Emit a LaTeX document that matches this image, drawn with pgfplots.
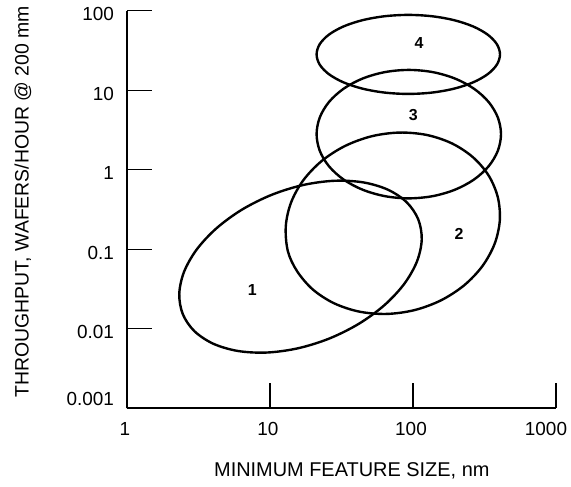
\documentclass[border=0pt]{standalone}
\usepackage{fontspec}
\setmainfont{Liberation Sans}
\usepackage{pgfplots}
\pgfplotsset{compat=1.18}
\begin{document}
\begin{tikzpicture}
\begin{axis}[
  scale only axis,
  width=429bp, height=397.6bp,
  xmode=log, ymode=log,
  xmin=1, xmax=1000, ymin=0.001, ymax=100,
  axis x line=bottom, axis y line=left,
  axis line style={-, line width=2.4pt, black},
  xminorticks=false, yminorticks=false,
  tick align=inside,
  major tick length=25bp,
  tick style={line width=1.2pt, black},
  /pgf/number format/assume math mode=true,
  xtick={1,10,100}, xticklabels={1,10,100},
  extra x ticks={1000}, extra x tick labels={1000},
  extra x tick style={xticklabel style={xshift=-8bp}},
  ytick={0.01,0.1,1,10,100}, yticklabels={0.01,0.1,1,10,100},
  extra y ticks={0.001}, extra y tick labels={0.001},
  extra y tick style={yticklabel style={yshift=12.5bp}},
  xticklabel style={font=\fontsize{19}{19}\selectfont, yshift=-10.5bp, xshift=-2bp},
  yticklabel style={font=\fontsize{19}{19}\selectfont, xshift=-9.5bp, yshift=-3.5bp},
  xlabel={MINIMUM FEATURE SIZE, nm},
  ylabel={THROUGHPUT, WAFERS/HOUR @ 200 mm},
  every axis x label/.style={at={(axis description cs:0.524,0)}, yshift=-62.2bp, anchor=center, font=\fontsize{20}{20}\selectfont},
  every axis y label/.style={at={(axis description cs:0,0.52)}, xshift=-104bp, rotate=90, anchor=center, font=\fontsize{19.5}{19.5}\selectfont},
  clip=false,
]
% ellipse 1
\addplot[black, line width=2.4pt, smooth cycle, tension=0.55] coordinates {
(108.8,0.2379) (90.45,0.3891) (66.89,0.5603) (44.95,0.6931) (28.19,0.7265) (17.03,0.6422)
(10.27,0.4836) (6.385,0.3159) (4.234,0.1843) (3.078,0.09974) (2.507,0.05215) (2.321,0.02753)
(2.454,0.01534) (2.953,0.009380) (3.993,0.006514) (5.941,0.005266) (9.471,0.005025) (15.68,0.005683)
(26.02,0.007549) (41.82,0.01156) (63.07,0.01980) (86.75,0.03659) (106.5,0.07000) (115.1,0.1326)
};
% ellipse 2
\addplot[black, line width=2.4pt, smooth cycle, tension=0.55] coordinates {
(391.6,0.4531) (337.9,0.8469) (262.3,1.439) (186.6,2.149) (124.4,2.740) (79.89,2.933)
(50.96,2.627) (33.31,1.981) (22.94,1.284) (17.08,0.7356) (14.04,0.3875) (12.90,0.1957)
(13.32,0.09528) (15.44,0.05325) (19.89,0.03131) (27.97,0.02098) (41.95,0.01646) (65.31,0.01537)
(102.4,0.01717) (156.7,0.02276) (227.5,0.03513) (305.5,0.06129) (371.8,0.1164) (404.6,0.2303)
};
% ellipse 3
\addplot[black, line width=2.4pt, smooth cycle, tension=0.55] coordinates {
(412.5,2.804) (392.1,4.538) (338.1,7.106) (267.0,10.44) (196.3,14.04) (137.2,16.90)
(93.46,18.00) (63.65,16.90) (44.50,14.04) (32.71,10.44) (25.84,7.106) (22.28,4.538)
(21.18,2.804) (22.28,1.733) (25.84,1.107) (32.71,0.7528) (44.50,0.5603) (63.65,0.4654)
(93.46,0.4368) (137.2,0.4654) (196.3,0.5603) (267.0,0.7528) (338.1,1.107) (392.1,1.733)
};
% ellipse 4
\addplot[black, line width=2.4pt, smooth cycle, tension=0.55] coordinates {
(405.9,28.20) (386.0,37.92) (333.0,49.96) (263.4,63.34) (194.0,75.97) (135.9,85.15)
(92.71,88.56) (63.27,85.15) (44.31,75.97) (32.64,63.34) (25.81,49.96) (22.27,37.92)
(21.18,28.20) (22.27,20.98) (25.81,15.92) (32.64,12.56) (44.31,10.47) (63.27,9.342)
(92.71,8.985) (135.9,9.342) (194.0,10.47) (263.4,12.56) (333.0,15.92) (386.0,20.98)
};
\node[font=\fontsize{16}{16}\bfseries\selectfont] at (axis cs:110.2,39.0) {4};
\node[font=\fontsize{16}{16}\bfseries\selectfont] at (axis cs:100.5,4.89) {3};
\node[font=\fontsize{16}{16}\bfseries\selectfont] at (axis cs:209.7,0.1544) {2};
\node[font=\fontsize{16}{16}\bfseries\selectfont] at (axis cs:7.52,0.0308) {1};
\end{axis}
\pgfresetboundingbox
\path (-127bp,-78.7bp) rectangle (444bp,408.3bp);
\end{tikzpicture}
\end{document}
